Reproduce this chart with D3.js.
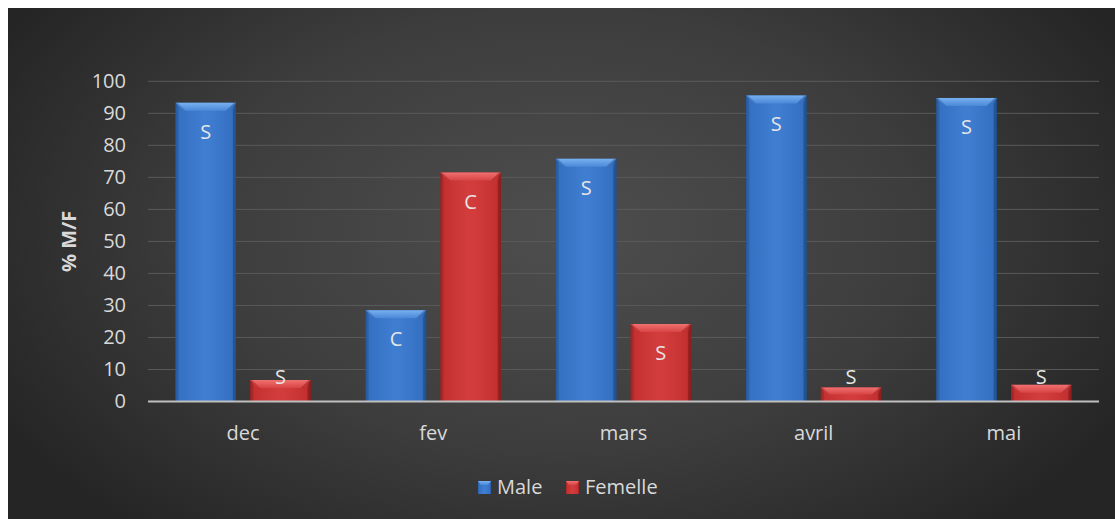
<!DOCTYPE html>
<html>
<head>
<meta charset="utf-8">
<script src="https://cdn.jsdelivr.net/npm/d3@7"></script>
<style>
  html, body { margin: 0; padding: 0; background: #ffffff; }
  svg { display: block; }
  text { font-family: "Open Sans", "Noto Sans", sans-serif; }
</style>
</head>
<body>
<svg id="chart" width="1115" height="519"></svg>
<script>
// Monthly sex ratio (% male / % female) with significance codes
const categories = ["dec", "fev", "mars", "avril", "mai"];
const seriesNames = ["Male", "Femelle"];
const maleValues = [93.3, 28.5, 75.8, 95.6, 94.8];
const femaleValues = [6.7, 71.5, 24.2, 4.4, 5.2];
const maleLabels = ["S", "C", "S", "S", "S"];
const femaleLabels = ["S", "C", "S", "S", "S"];
const yTicks = [0, 10, 20, 30, 40, 50, 60, 70, 80, 90, 100];
const yTitle = "% M/F";

const W = 1115, H = 519;
const plot = { left: 148, right: 1099, top: 81.3, bottom: 401.5 };

const svg = d3.select("#chart");
const defs = svg.append("defs");

// dark panel with soft radial light
const bg = defs.append("radialGradient").attr("id", "bgGrad")
  .attr("gradientUnits", "userSpaceOnUse")
  .attr("cx", 560).attr("cy", 230).attr("r", 640)
  .attr("gradientTransform", "translate(560,230) scale(1,0.62) translate(-560,-230)");
bg.append("stop").attr("offset", "0%").attr("stop-color", "#4e4e4e");
bg.append("stop").attr("offset", "55%").attr("stop-color", "#3d3d3d");
bg.append("stop").attr("offset", "100%").attr("stop-color", "#252525");

svg.append("rect").attr("x", 0).attr("y", 0).attr("width", W).attr("height", H).attr("fill", "#ffffff");
svg.append("rect").attr("x", 8).attr("y", 8).attr("width", W - 8).attr("height", H - 8).attr("fill", "url(#bgGrad)");

// colour sets for bevelled bars
const palettes = {
  Male:    { edge: "#21518f", body: "#3570c2", mid: "#3f7dd0", bevTop: "#78b0f0", bevBot: "#4a88d8", side: "#2b60a8" },
  Femelle: { edge: "#8c1e1e", body: "#c43030", mid: "#d23c3c", bevTop: "#f07070", bevBot: "#d84444", side: "#a82828" }
};

Object.entries(palettes).forEach(([name, p]) => {
  const id = name === "Male" ? "m" : "f";
  const g = defs.append("linearGradient").attr("id", "body-" + id)
    .attr("x1", "0").attr("x2", "1").attr("y1", "0").attr("y2", "0");
  [[0, p.edge], [0.06, p.body], [0.45, p.mid], [0.55, p.mid], [0.93, p.body], [1, p.edge]]
    .forEach(([o, c]) => g.append("stop").attr("offset", o).attr("stop-color", c));
  const b = defs.append("linearGradient").attr("id", "bev-" + id)
    .attr("x1", "0").attr("x2", "0").attr("y1", "0").attr("y2", "1");
  b.append("stop").attr("offset", 0).attr("stop-color", p.bevTop);
  b.append("stop").attr("offset", 1).attr("stop-color", p.bevBot);
});

const x0 = d3.scaleBand().domain(categories).range([plot.left, plot.right]).paddingInner(0).paddingOuter(0);
const x1 = d3.scaleBand().domain(seriesNames).range([0, x0.bandwidth()]).paddingInner(0.19).paddingOuter(0.368);
const y = d3.scaleLinear().domain([0, 100]).range([plot.bottom, plot.top]);

// gridlines
svg.append("g").selectAll("line").data(yTicks.filter(t => t > 0)).join("line")
  .attr("x1", plot.left).attr("x2", plot.right)
  .attr("y1", d => y(d)).attr("y2", d => y(d))
  .attr("stroke", "#5a5a5a").attr("stroke-width", 1);

// y axis tick labels
const yAxis = d3.axisLeft(y).tickValues(yTicks).tickSize(0).tickPadding(22);
const yg = svg.append("g").attr("transform", `translate(${plot.left},0)`).call(yAxis);
yg.select(".domain").remove();
yg.selectAll("text").attr("fill", "#d9d9d9").attr("font-size", 20)
  .attr("font-family", "'Open Sans', sans-serif");

// y axis title
svg.append("text")
  .attr("transform", `translate(76,${(plot.top + plot.bottom) / 2}) rotate(-90)`)
  .attr("text-anchor", "middle").attr("font-size", 20).attr("font-weight", "bold")
  .attr("fill", "#d9d9d9").text(yTitle);

// bars
const rows = [];
categories.forEach((c, i) => {
  rows.push({ cat: c, series: "Male", value: maleValues[i], label: maleLabels[i] });
  rows.push({ cat: c, series: "Femelle", value: femaleValues[i], label: femaleLabels[i] });
});

const bev = 8, side = 3;
const barG = svg.append("g").selectAll("g").data(rows).join("g");
barG.each(function (d) {
  const g = d3.select(this);
  const id = d.series === "Male" ? "m" : "f";
  const p = palettes[d.series];
  const bx = x0(d.cat) + x1(d.series), bw = x1.bandwidth();
  const top = y(d.value), bot = y(0);
  const bb = Math.min(bev, (bot - top) / 2);
  g.append("rect").attr("x", bx).attr("y", top).attr("width", bw).attr("height", bot - top)
    .attr("fill", `url(#body-${id})`);
  // side facets
  g.append("path").attr("d", `M${bx},${top}L${bx + side},${top + bb}L${bx + side},${bot}L${bx},${bot}Z`)
    .attr("fill", p.side).attr("opacity", 0.55);
  g.append("path").attr("d", `M${bx + bw},${top}L${bx + bw - side},${top + bb}L${bx + bw - side},${bot}L${bx + bw},${bot}Z`)
    .attr("fill", p.edge).attr("opacity", 0.7);
  // top bevel
  g.append("path")
    .attr("d", `M${bx},${top}L${bx + bw},${top}L${bx + bw - bb},${top + bb}L${bx + bb},${top + bb}Z`)
    .attr("fill", `url(#bev-${id})`);
  g.append("path")
    .attr("d", `M${bx},${top}L${bx + bb},${top + bb}L${bx + bb + 2},${top + bb}L${bx + 2},${top}Z`)
    .attr("fill", p.side).attr("opacity", 0.5);
  g.append("path")
    .attr("d", `M${bx + bw},${top}L${bx + bw - bb},${top + bb}L${bx + bw - bb - 2},${top + bb}L${bx + bw - 2},${top}Z`)
    .attr("fill", p.edge).attr("opacity", 0.5);
});

// value-code labels: inside the top when the bar is tall enough, otherwise just above
svg.append("g").selectAll("text").data(rows).join("text")
  .attr("x", d => x0(d.cat) + x1(d.series) + x1.bandwidth() / 2)
  .attr("y", d => (y(0) - y(d.value) > 40) ? y(d.value) + 36 : y(0) - 18)
  .attr("text-anchor", "middle").attr("font-size", 20).attr("fill", "#e6e6e6")
  .text(d => d.label);

// baseline
svg.append("line").attr("x1", plot.left).attr("x2", plot.right)
  .attr("y1", y(0)).attr("y2", y(0)).attr("stroke", "#bfbfbf").attr("stroke-width", 2);

// category axis
const xAxis = d3.axisBottom(x0).tickSize(0).tickPadding(24);
const xg = svg.append("g").attr("transform", `translate(0,${y(0)})`).call(xAxis);
xg.select(".domain").remove();
xg.selectAll("text").attr("fill", "#d9d9d9").attr("font-size", 20)
  .attr("font-family", "'Open Sans', sans-serif");

// legend
const legendItems = [
  { name: seriesNames[0], x: 478 },
  { name: seriesNames[1], x: 566 }
];
const lg = svg.append("g").selectAll("g").data(legendItems).join("g")
  .attr("transform", d => `translate(${d.x},481)`);
lg.each(function (d) {
  const g = d3.select(this);
  const id = d.name === "Male" ? "m" : "f";
  g.append("rect").attr("width", 13).attr("height", 13).attr("fill", `url(#body-${id})`);
  g.append("path").attr("d", "M0,0L13,0L10,4L3,4Z").attr("fill", `url(#bev-${id})`);
  g.append("text").attr("x", 19).attr("y", 13).attr("font-size", 20).attr("fill", "#d9d9d9").text(d.name);
});
</script>
</body>
</html>
